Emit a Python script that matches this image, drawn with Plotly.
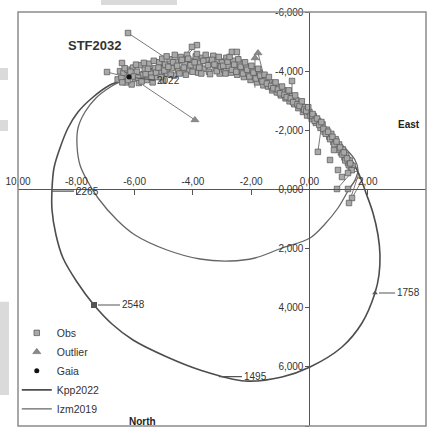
import plotly.graph_objects as go

# ---------------- data ----------------
# Orbit Kpp2022 (outer ellipse)
kpp_x = [-6.225, -6.843, -7.461, -7.941, -8.284, -8.559, -8.765, -8.833, -8.833, -8.696,
         -8.456, -7.976, -7.392, -6.775, -6.054, -4.887, -3.755, -2.211, -0.941, 0.020,
         1.118, 1.804, 2.250, 2.387, 2.421, 2.353, 2.181, 1.941, 1.667, 1.324,
         0.877, 0.363, -0.152, -0.667, -1.181, -1.627, -2.211, -2.897, -3.755, -4.613,
         -5.471, -6.225]
kpp_y = [-3.768, -3.531, -3.092, -2.618, -2.077, -1.401, -0.725, -0.015, 0.696, 1.541,
         2.319, 3.130, 3.908, 4.551, 5.092, 5.667, 6.106, 6.478, 6.343, 6.005,
         5.328, 4.517, 3.502, 2.894, 2.217, 1.541, 0.797, 0.121, -0.590, -1.164,
         -1.672, -2.179, -2.618, -3.024, -3.430, -3.734, -4.039, -4.242, -4.343, -4.275,
         -4.073, -3.768]

# Orbit Izm2019 (inner ellipse)
izm_x = [-6.225, -6.775, -7.324, -7.701, -7.941, -7.976, -7.873, -7.598, -7.255, -6.603,
         -5.985, -4.887, -3.755, -2.725, -1.868, -0.941, 0.020, 0.534, 0.980, 1.324,
         1.564, 1.667, 1.564, 1.221, 0.775, 0.260, -0.255, -0.770, -1.284, -1.799,
         -2.451, -3.240, -4.098, -4.956, -5.642, -6.225]
izm_y = [-3.768, -3.498, -3.092, -2.618, -2.077, -1.502, -0.826, -0.251, 0.290, 1.034,
         1.541, 2.048, 2.353, 2.420, 2.319, 1.981, 1.643, 1.169, 0.628, 0.053,
         -0.319, -0.657, -0.995, -1.401, -1.841, -2.314, -2.754, -3.159, -3.531, -3.836,
         -4.106, -4.275, -4.309, -4.208, -4.005, -3.768]

# Observations
obs_x = [-6.58, -6.50, -6.45, -6.38, -6.30, -6.25, -6.18, -6.10, -6.05, -5.98, -5.92, -5.85,
         -5.80, -5.72, -5.65, -5.58, -5.50, -5.45, -5.38, -5.30, -5.22, -5.15, -5.08, -5.02,
         -4.95, -4.88, -4.80, -4.72, -4.65, -4.58, -4.50, -4.42, -4.35, -4.28, -4.20, -4.12,
         -4.05, -3.98, -3.90, -3.82, -3.75, -3.68, -3.60, -3.52, -3.45, -3.38, -3.30, -3.22,
         -3.15, -3.08, -3.00, -2.92, -2.85, -2.78, -2.70, -2.62, -2.55, -2.48, -2.40, -2.32,
         -2.25, -2.18, -2.10, -2.02, -1.95, -1.88, -1.80, -1.72, -1.65, -1.58, -1.50, -1.42,
         -1.35, -1.28, -1.20, -1.12, -1.05, -0.98, -0.90, -0.82, -0.75, -0.68, -0.60, -0.52,
         -0.45, -0.38, -0.30, -0.22, -0.15, -0.08, 0.00, 0.08, 0.15, 0.22, 0.30, 0.38,
         0.45, 0.52, 0.60, 0.68, 0.75, 0.82, 0.90, 0.96, 1.02, 1.08, 1.15, 1.20,
         1.26, 1.32, 1.38, 1.42, 1.48,
         -6.42, -6.34, -6.22, -6.14, -6.02, -5.95, -5.88, -5.76, -5.68, -5.62, -5.54, -5.42,
         -5.34, -5.26, -5.18, -5.10, -5.05,
         -4.98, -4.90, -4.84, -4.76, -4.68, -4.62, -4.54, -4.46, -4.38, -4.31, -4.24, -4.16,
         -4.08, -4.01, -3.94, -3.86, -3.78, -3.71, -3.64, -3.56, -3.48, -3.41, -3.34, -3.26,
         -3.18, -3.11, -3.04,
         -2.96, -2.88, -2.81, -2.74, -2.66, -2.58, -2.51, -2.44, -2.36, -2.28, -2.21, -2.14,
         -2.06, -1.99, -1.92, -1.84, -1.76, -1.69, -1.61, -1.54,
         -1.46, -1.39, -1.31, -1.24, -1.16, -1.08, -1.01, -0.94, -0.86, -0.78, -0.71, -0.64,
         -0.56, -0.49, -0.41, -0.34, -0.26, -0.18, -0.11, -0.04, 0.04, 0.11, 0.18, 0.26,
         0.34, 0.41, 0.48, 0.56, 0.64, 0.71, 0.79, 0.86, 0.93, 0.99, 1.05, 1.12,
         1.18, 1.23, 1.29, 1.35, 1.40, 1.45,
         -6.225, -3.86, -4.03, -2.66, -2.49, -0.598, -6.946, -6.431, 0.29,
         0.946, 1.324, 1.461, 1.358, 1.118, 1.324, 0.980, 0.706, 0.843]
obs_y = [-3.72, -4.00, -3.78, -3.95, -3.62, -4.05, -3.85, -3.55, -4.12, -3.75, -3.98, -3.60,
         -4.20, -3.88, -4.05, -3.70, -4.25, -3.92, -3.62, -4.10, -3.80, -4.30, -3.98, -3.68,
         -4.22, -3.92, -4.40, -4.10, -3.85, -4.32, -4.05, -4.48, -3.95, -4.25, -4.55, -4.02,
         -4.35, -4.15, -4.50, -3.95, -4.28, -4.45, -4.08, -4.38, -3.98, -4.25, -4.52, -4.10,
         -4.35, -3.92, -4.30, -4.05, -4.45, -4.18, -3.95, -4.35, -4.10, -3.88, -4.25, -4.02,
         -3.80, -4.15, -3.92, -3.70, -4.05, -3.82, -3.62, -3.95, -3.72, -3.52, -3.72, -3.48,
         -3.62, -3.35, -3.55, -3.28, -3.45, -3.18, -3.35, -3.08, -3.25, -2.98, -3.15, -2.88,
         -3.02, -2.75, -2.90, -2.62, -2.78, -2.50, -2.62, -2.38, -2.48, -2.25, -2.32, -2.08,
         -2.20, -1.95, -2.02, -1.78, -1.88, -1.60, -1.70, -1.42, -1.52, -1.25, -1.35, -1.08,
         -1.15, -0.90, -0.98, -0.72, -0.80,
         -3.62, -4.10, -3.70, -3.98, -3.82, -4.22, -3.78, -3.65, -4.28, -3.90, -4.08, -3.78,
         -4.35, -3.95, -4.12, -3.80, -4.42,
         -4.02, -4.50, -4.15, -3.88, -4.30, -4.55, -4.18, -3.92, -4.38, -4.12, -3.88, -4.42,
         -4.20, -3.98, -4.30, -4.58, -4.12, -3.92, -4.35, -4.55, -4.20, -3.90, -4.38, -4.22,
         -4.00, -4.48, -4.15,
         -4.18, -3.92, -4.32, -4.48, -4.05, -4.22, -3.98, -4.40, -4.15, -3.92, -4.30, -4.05,
         -3.82, -4.18, -3.95, -3.75, -4.08, -3.85, -3.65, -3.88,
         -3.58, -3.80, -3.50, -3.42, -3.62, -3.38, -3.25, -3.48, -3.20, -3.12, -3.35, -3.08,
         -2.95, -3.18, -2.88, -2.82, -2.98, -2.70, -2.65, -2.78, -2.48, -2.55, -2.32, -2.40,
         -2.18, -2.28, -2.05, -1.88, -1.95, -1.70, -1.78, -1.52, -1.62, -1.35, -1.42, -1.18,
         -1.25, -0.98, -1.05, -0.82, -0.88, -0.65,
         -5.29, -4.88, -4.82, -4.65, -4.65, -3.667, -3.97, -4.276, -1.27,
         -0.015, -0.015, 0.290, 0.459, -0.420, -0.556, -0.657, -0.995, -1.333]

# Outliers
out_x = [-1.868, -1.765, -3.93]
out_y = [-4.444, -4.613, -2.35]

# Gaia
gaia_x = [-6.19]
gaia_y = [-3.80]

# Residual lines: from a measure to its place on the orbit
res_x0 = [-6.225, -3.86, -4.03, -2.66, -2.49, -1.868, -1.765, -0.598, -3.93, -6.946, 0.29,
          0.946, 1.324, 1.461, 1.358, 1.118, 1.324]
res_y0 = [-5.29, -4.88, -4.82, -4.65, -4.65, -4.444, -4.613, -3.667, -2.35, -3.97, -1.27,
          -0.015, -0.015, 0.290, 0.459, -0.420, -0.556]
res_x1 = [-4.72, -4.44, -4.44, -3.24, -2.14, -1.87, -1.53, -0.598, -5.71, -6.157, 0.40,
          1.56, 1.72, 1.80, 1.70, 1.62, 1.66]
res_y1 = [-4.31, -4.31, -4.31, -4.24, -4.04, -3.44, -3.70, -3.02, -3.53, -3.77, -2.05,
          -0.70, -0.45, -0.30, -0.55, -0.75, -0.62]

# Epoch labels on the orbit
epoch_text = ["2265", "2548", "1495", "1758", "2022"]
epoch_x = [-8.833, -7.392, -3.14, 2.250, -6.19]
epoch_y = [0.06, 3.908, 6.33, 3.502, -3.80]
epoch_ax = [22, 26, 24, 20, 26]
epoch_ay = [0, 0, 0, 0, 3]
epoch_standoff = [0, 4, 1, 4, 6]

mark_sq_x, mark_sq_y = [-7.392], [3.908]
mark_tri_x, mark_tri_y = [2.250], [3.502]

x_tickvals = [-10, -8, -6, -4, -2, 0, 2, 4]
x_ticktext = ["10,00", "-8,00", "-6,00", "-4,00", "-2,00", "0,00", "2,00", "4,00"]
y_tickvals = [-6, -4, -2, 0, 2, 4, 6, 8]
y_ticktext = ["-6,000", "-4,000", "-2,000", "0,000", "2,000", "4,000", "6,000", "8,000"]

FONT = "Liberation Sans, Arial, sans-serif"
TXT = "#333333"

# ---------------- figure ----------------
fig = go.Figure()

rx, ry = [], []
for a, b, c, d in zip(res_x0, res_y0, res_x1, res_y1):
    rx += [a, c, None]
    ry += [b, d, None]
fig.add_trace(go.Scatter(x=rx, y=ry, mode="lines", line=dict(color="#7a7a7a", width=1),
                         showlegend=False, hoverinfo="skip"))

fig.add_trace(go.Scatter(x=izm_x, y=izm_y, mode="lines", name="Izm2019",
                         line=dict(color="#666666", width=1.3, shape="spline", smoothing=1),
                         legendrank=5))
fig.add_trace(go.Scatter(x=kpp_x, y=kpp_y, mode="lines", name="Kpp2022",
                         line=dict(color="#4d4d4d", width=1.6, shape="spline", smoothing=1),
                         legendrank=4))

fig.add_trace(go.Scatter(x=obs_x, y=obs_y, mode="markers", name="Obs",
                         marker=dict(symbol="square", size=5.5, color="#a8a8a8",
                                     line=dict(color="#5e5e5e", width=0.8)),
                         legendrank=1))
fig.add_trace(go.Scatter(x=out_x, y=out_y, mode="markers", name="Outlier",
                         marker=dict(symbol="triangle-up", size=7, color="#8a8a8a",
                                     line=dict(color="#666666", width=0.6)),
                         legendrank=2))
fig.add_trace(go.Scatter(x=gaia_x, y=gaia_y, mode="markers", name="Gaia",
                         marker=dict(symbol="circle", size=5, color="#111111"),
                         legendrank=3))

fig.add_trace(go.Scatter(x=mark_sq_x, y=mark_sq_y, mode="markers", showlegend=False,
                         marker=dict(symbol="square", size=6, color="#555555")))
fig.add_trace(go.Scatter(x=mark_tri_x, y=mark_tri_y, mode="markers", showlegend=False,
                         marker=dict(symbol="triangle-up", size=5, color="#555555")))

for t, x, y, ax, ay, so in zip(epoch_text, epoch_x, epoch_y, epoch_ax, epoch_ay, epoch_standoff):
    fig.add_annotation(x=x, y=y, text=t, showarrow=True, arrowhead=0, arrowwidth=1.2,
                       arrowcolor="#555555", ax=ax, ay=ay, xanchor="left", standoff=so,
                       font=dict(family=FONT, size=10, color=TXT))

fig.add_annotation(x=-7.39, y=-4.88, text="<b>STF2032</b>", showarrow=False,
                   font=dict(family=FONT, size=13, color="#333333"))
fig.add_annotation(x=3.42, y=-2.18, text="<b>East</b>", showarrow=False,
                   font=dict(family=FONT, size=10, color="#222222"))
fig.add_annotation(x=-5.745, y=7.86, text="<b>North</b>", showarrow=False,
                   font=dict(family=FONT, size=10, color="#222222"))

# frame and the grey scraps around the page
fig.add_shape(type="rect", xref="paper", yref="paper", x0=0, y0=0, x1=1, y1=1,
              line=dict(color="#8c8c8c", width=1.5), fillcolor="rgba(0,0,0,0)")
for x0, x1, y0, y1 in [(0.2034, 0.3897, 1.0169, 1.03), (-0.0441, -0.0245, 0.8357, 0.8647),
                       (-0.0441, -0.0245, 0.7126, 0.7391), (-0.0441, -0.0221, 0.075, 0.30)]:
    fig.add_shape(type="rect", xref="paper", yref="paper", x0=x0, x1=x1, y0=y0, y1=y1,
                  line=dict(width=0), fillcolor="#dadada", layer="below")

fig.update_layout(
    width=431, height=427,
    margin=dict(l=18, r=5, t=12, b=1),
    paper_bgcolor="white", plot_bgcolor="white",
    font=dict(family=FONT, size=10, color=TXT),
    showlegend=True,
    legend=dict(x=-0.003, y=0.260, xanchor="left", yanchor="top",
                bgcolor="rgba(0,0,0,0)", font=dict(family=FONT, size=10.5, color=TXT),
                itemwidth=30, traceorder="normal"),
    xaxis=dict(range=[-10, 4], anchor="free", position=8 / 14, side="top",
               showline=True, linecolor="#555555", linewidth=1,
               ticks="inside", ticklen=5, tickcolor="#555555",
               tickvals=x_tickvals, ticktext=x_ticktext,
               showgrid=False, zeroline=False, tickfont=dict(size=10, color=TXT)),
    yaxis=dict(range=[8, -6], anchor="free", position=10 / 14, side="left",
               showline=True, linecolor="#555555", linewidth=1,
               ticks="outside", ticklen=4, tickcolor="#555555",
               tickvals=y_tickvals, ticktext=y_ticktext,
               showgrid=False, zeroline=False, tickfont=dict(size=10, color=TXT)),
)

fig.write_html("out.html")
